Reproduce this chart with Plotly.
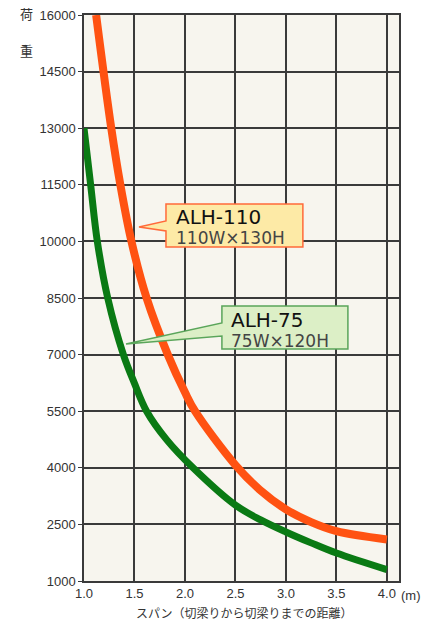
import plotly.graph_objects as go

# ---- data ----
alh110_x = [1.12, 1.27, 1.36, 1.47, 1.62, 1.83, 2.0, 2.10, 2.5, 2.74, 3.0, 3.25, 3.5, 4.0]
alh110_y = [16000, 13000, 11500, 10000, 8500, 7000, 6000, 5500, 4070, 3420, 2900, 2560, 2320, 2100]

alh75_x = [1.0, 1.066, 1.132, 1.235, 1.39, 1.498, 1.62, 1.82, 2.08, 2.5, 2.75, 3.0, 3.25, 3.5, 4.0]
alh75_y = [13000, 11500, 10000, 8500, 7000, 6250, 5500, 4740, 4000, 3010, 2620, 2300, 2010, 1740, 1300]

x_ticks = [1.0, 1.5, 2.0, 2.5, 3.0, 3.5, 4.0]
x_tick_text = ["1.0", "1.5", "2.0", "2.5", "3.0", "3.5", "4.0"]
y_ticks = [1000, 2500, 4000, 5500, 7000, 8500, 10000, 11500, 13000, 14500, 16000]
y_tick_text = ["1000", "2500", "4000", "5500", "7000", "8500", "10000", "11500", "13000", "14500", "16000"]

name_110 = "ALH-110"
size_110 = "110W×130H"
name_75 = "ALH-75"
size_75 = "75W×120H"

x_title = "スパン（切梁りから切梁りまでの距離）"
y_title_chars = ["荷", "重"]
x_unit = "(m)"

ORANGE = "#ff5212"
GREEN = "#0a7a14"
GRID = "#3a3a3a"
TXT = "#333333"

fig = go.Figure()
fig.add_trace(go.Scatter(x=alh110_x, y=alh110_y, mode="lines",
                         line=dict(color=ORANGE, width=8, shape="spline", smoothing=1.0),
                         hoverinfo="skip"))
fig.add_trace(go.Scatter(x=alh75_x, y=alh75_y, mode="lines",
                         line=dict(color=GREEN, width=7, shape="spline", smoothing=1.0),
                         hoverinfo="skip"))


def callout(tip, left, right, top, bottom, base_top, base_bottom, fill, border):
    path = (f"M {tip[0]},{tip[1]} L {left},{base_top} L {left},{top} L {right},{top} "
            f"L {right},{bottom} L {left},{bottom} L {left},{base_bottom} Z")
    fig.add_shape(type="path", path=path, xref="x", yref="y",
                  fillcolor=fill, line=dict(color=border, width=1.5), layer="above")


callout((1.545, 10382), 1.812, 3.168, 10991, 9852, 10541, 10276, "#fdeaa6", "#ff6a3a")
callout((1.416, 7281), 2.366, 3.614, 8288, 7149, 7838, 7493, "#dcefc6", "#5aa55a")

lab_font = "DejaVu Sans"


def label(x, y, name, size):
    txt = (f"<span style='font-size:20px;color:#111111'>{name}</span><br>"
           f"<span style='font-size:17px;color:#444444'>{size}</span>")
    fig.add_annotation(x=x, y=y, xref="x", yref="y", text=txt, showarrow=False,
                       xanchor="left", yanchor="middle", align="left",
                       font=dict(family=lab_font, size=15, color="#111111"))


label(1.895, 10382, name_110, size_110)
label(2.44, 7666, name_75, size_75)

# axis titles
fig.add_annotation(x=0.511, y=-0.055, xref="paper", yref="paper", text=x_title,
                   showarrow=False, xanchor="center", yanchor="middle",
                   font=dict(family="Noto Sans CJK JP", size=12, color=TXT))
fig.add_annotation(x=-0.181, y=1.0035, xref="paper", yref="paper", text=y_title_chars[0],
                   showarrow=False, xanchor="center", yanchor="middle",
                   font=dict(family="Noto Sans CJK JP", size=13, color=TXT))
fig.add_annotation(x=-0.181, y=0.938, xref="paper", yref="paper", text=y_title_chars[1],
                   showarrow=False, xanchor="center", yanchor="middle",
                   font=dict(family="Noto Sans CJK JP", size=13, color=TXT))
fig.add_annotation(x=1.038, y=-0.0265, xref="paper", yref="paper", text=x_unit,
                   showarrow=False, xanchor="center", yanchor="middle",
                   font=dict(family="Liberation Sans", size=13, color=TXT))

fig.update_xaxes(range=[1.0, 4.12], tickvals=x_ticks, ticktext=x_tick_text,
                 showgrid=True, gridcolor=GRID, gridwidth=1.5,
                 showline=True, linecolor=GRID, linewidth=1.5, mirror=True,
                 ticks="", zeroline=False, automargin=False,
                 tickfont=dict(family="Liberation Sans", size=13, color=TXT))
fig.update_yaxes(range=[1000, 16000], tickvals=y_ticks, ticktext=y_tick_text,
                 showgrid=True, gridcolor=GRID, gridwidth=1.5,
                 showline=True, linecolor=GRID, linewidth=1.5, mirror=True,
                 ticks="outside", ticklen=4, tickcolor=GRID, zeroline=False,
                 automargin=False,
                 tickfont=dict(family="Liberation Sans", size=13, color=TXT))

fig.update_layout(width=435, height=624, autosize=False,
                  margin=dict(l=84, r=36, t=15, b=43),
                  plot_bgcolor="#f7f5ee", paper_bgcolor="#ffffff",
                  showlegend=False)

fig.write_html("out.html", config={"displayModeBar": False},
               post_script="document.body.style.margin='0';document.body.style.overflow='hidden';")
